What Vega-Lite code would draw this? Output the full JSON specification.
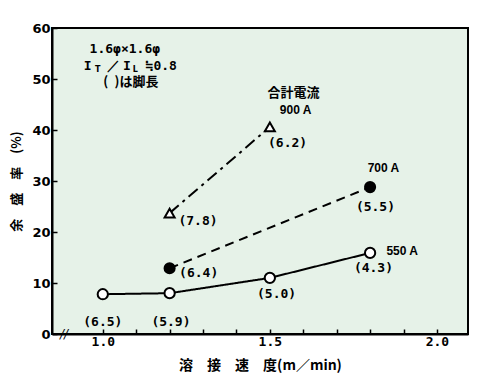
{
  "$schema": "https://vega.github.io/schema/vega-lite/v6.json",
  "width": 416,
  "height": 306,
  "autosize": {"type": "none"},
  "padding": {"left": 52, "top": 28, "right": 34, "bottom": 52},
  "background": "white",
  "config": {
    "view": {"fill": "#e6f2e8", "stroke": "black", "strokeWidth": 2},
    "axis": {
      "domainColor": "black", "domainWidth": 2, "tickColor": "black", "tickWidth": 1.5,
      "tickSize": -5, "grid": false, "labelColor": "black", "titleColor": "black",
      "labelFontWeight": "bold", "labelFontSize": 13
    }
  },
  "datasets": {
    "pts": [
      {"series": "550 A", "speed": 1.0, "ratio": 7.8},
      {"series": "550 A", "speed": 1.2, "ratio": 8.0},
      {"series": "550 A", "speed": 1.5, "ratio": 11.0},
      {"series": "550 A", "speed": 1.8, "ratio": 15.9},
      {"series": "700 A", "speed": 1.2, "ratio": 12.9},
      {"series": "700 A", "speed": 1.8, "ratio": 28.8},
      {"series": "900 A", "speed": 1.2, "ratio": 23.7},
      {"series": "900 A", "speed": 1.5, "ratio": 40.6}
    ],
    "nums": [
      {"t": "(6.5)", "x": 1.0, "y": 2.35},
      {"t": "(5.9)", "x": 1.204, "y": 2.35},
      {"t": "(5.0)", "x": 1.52, "y": 7.8},
      {"t": "(4.3)", "x": 1.81, "y": 12.9},
      {"t": "(6.4)", "x": 1.287, "y": 12.0},
      {"t": "(5.5)", "x": 1.816, "y": 24.9},
      {"t": "(7.8)", "x": 1.285, "y": 22.2},
      {"t": "(6.2)", "x": 1.553, "y": 37.5}
    ],
    "names": [
      {"t": "550 A", "x": 1.896, "y": 16.3},
      {"t": "700 A", "x": 1.84, "y": 32.5},
      {"t": "900 A", "x": 1.577, "y": 43.9}
    ],
    "jp": [
      {"t": "合計電流", "x": 1.571, "y": 47.3},
      {"t": "(\u2002)は脚長", "x": 1.084, "y": 49.4}
    ],
    "cond": [
      {"t": "1.6φ×1.6φ", "x": 1.066, "y": 55.9},
      {"t": "I", "x": 0.955, "y": 52.5},
      {"t": "／", "x": 1.032, "y": 52.5},
      {"t": "I", "x": 1.072, "y": 52.5},
      {"t": "≒0.8", "x": 1.175, "y": 52.5}
    ],
    "subs": [
      {"t": "T", "x": 0.985, "y": 51.7},
      {"t": "L", "x": 1.097, "y": 51.7}
    ],
    "brk": [{"t": "//", "x": 0.884, "y": 0}]
  },
  "encoding": {
    "x": {"type": "quantitative", "scale": {"domain": [0.848, 2.093], "nice": false, "zero": false}},
    "y": {"type": "quantitative", "scale": {"domain": [0, 60], "nice": false}}
  },
  "layer": [
    {
      "mark": {"type": "rule", "strokeDash": [5, 4], "strokeWidth": 2, "color": "black"},
      "encoding": {"y": {"datum": 20, "type": "quantitative"}}
    },
    {
      "data": {"name": "pts"},
      "mark": {"type": "line", "color": "black", "strokeWidth": 2},
      "encoding": {
        "x": {"field": "speed", "type": "quantitative",
          "axis": {"values": [1.0, 1.1, 1.2, 1.3, 1.4, 1.5, 1.6, 1.7, 1.8, 1.9, 2.0],
            "labelExpr": "(abs(datum.value-1)<0.001 || abs(datum.value-1.5)<0.001 || abs(datum.value-2)<0.001) ? format(datum.value, '.1f') : ''",
            "labelFont": "DejaVu Sans Mono", "labelPadding": 6,
            "title": "溶　接　速　度(m／min)", "titleFont": "Noto Sans CJK JP", "titleFontSize": 14, "titleFontWeight": "bold", "titlePadding": 10}},
        "y": {"field": "ratio", "type": "quantitative",
          "axis": {"values": [0, 10, 20, 30, 40, 50, 60], "labelFont": "DejaVu Sans", "labelPadding": 7,
            "title": "余　盛　率　(%)", "titleFont": "Noto Sans CJK JP", "titleFontSize": 13, "titleFontWeight": "bold", "titlePadding": 8}},
        "detail": {"field": "series"},
        "strokeDash": {"field": "series", "type": "nominal", "legend": null,
          "scale": {"domain": ["550 A", "700 A", "900 A"], "range": [[1, 0], [9, 6], [12, 5, 3, 5]]}}
      }
    },
    {
      "data": {"name": "pts"},
      "mark": {"type": "point", "filled": true, "stroke": "black", "strokeWidth": 2, "opacity": 1},
      "encoding": {
        "x": {"field": "speed", "type": "quantitative"},
        "y": {"field": "ratio", "type": "quantitative"},
        "shape": {"field": "series", "type": "nominal", "legend": null,
          "scale": {"domain": ["550 A", "700 A", "900 A"], "range": ["circle", "circle", "triangle-up"]}},
        "fill": {"field": "series", "type": "nominal", "legend": null,
          "scale": {"domain": ["550 A", "700 A", "900 A"], "range": ["white", "black", "white"]}},
        "size": {"field": "series", "type": "nominal", "legend": null,
          "scale": {"domain": ["550 A", "700 A", "900 A"], "range": [105, 100, 170]}}
      }
    },
    {
      "data": {"name": "nums"},
      "mark": {"type": "text", "font": "DejaVu Sans Mono", "fontWeight": "bold", "fontSize": 13, "color": "black"},
      "encoding": {"x": {"field": "x", "type": "quantitative"}, "y": {"field": "y", "type": "quantitative"}, "text": {"field": "t"}}
    },
    {
      "data": {"name": "names"},
      "mark": {"type": "text", "font": "Liberation Sans", "fontWeight": "bold", "fontSize": 12, "color": "black"},
      "encoding": {"x": {"field": "x", "type": "quantitative"}, "y": {"field": "y", "type": "quantitative"}, "text": {"field": "t"}}
    },
    {
      "data": {"name": "jp"},
      "mark": {"type": "text", "font": "Noto Sans CJK JP", "fontWeight": "bold", "fontSize": 13, "color": "black"},
      "encoding": {"x": {"field": "x", "type": "quantitative"}, "y": {"field": "y", "type": "quantitative"}, "text": {"field": "t"}}
    },
    {
      "data": {"name": "cond"},
      "mark": {"type": "text", "font": "DejaVu Sans Mono", "fontWeight": "bold", "fontSize": 13, "color": "black"},
      "encoding": {"x": {"field": "x", "type": "quantitative"}, "y": {"field": "y", "type": "quantitative"}, "text": {"field": "t"}}
    },
    {
      "data": {"name": "subs"},
      "mark": {"type": "text", "font": "DejaVu Sans", "fontWeight": "bold", "fontSize": 8, "color": "black"},
      "encoding": {"x": {"field": "x", "type": "quantitative"}, "y": {"field": "y", "type": "quantitative"}, "text": {"field": "t"}}
    },
    {
      "data": {"name": "brk"},
      "mark": {"type": "text", "font": "DejaVu Sans", "fontSize": 12, "fontStyle": "italic", "color": "black", "baseline": "middle"},
      "encoding": {"x": {"field": "x", "type": "quantitative"}, "y": {"field": "y", "type": "quantitative"}, "text": {"field": "t"}}
    }
  ]
}
